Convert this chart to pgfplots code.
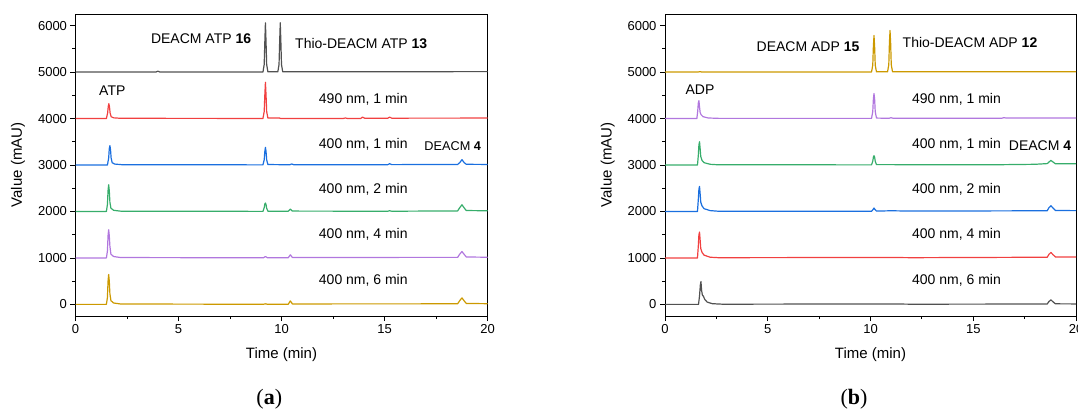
\documentclass[border=0pt]{standalone}
\usepackage{fontspec}
\setmainfont{Liberation Sans}
\newfontfamily\capfont{Liberation Serif}
\usepackage{pgfplots}
\pgfplotsset{compat=1.18}

\definecolor{cblack}{HTML}{515151}
\definecolor{cred}{HTML}{F14040}
\definecolor{cblue}{HTML}{1A6FDF}
\definecolor{cgreen}{HTML}{37AD6B}
\definecolor{cpurple}{HTML}{B177DE}
\definecolor{cyellow}{HTML}{CC9900}

\pgfplotsset{
  hplc/.style={
    scale only axis, width=412pt, height=302pt,
    xmin=0, xmax=20, ymin=-250, ymax=6250,
    xtick={0,5,10,15,20}, ytick={0,1000,2000,3000,4000,5000,6000},
    minor x tick num=1, minor y tick num=1,
    xtick pos=bottom, ytick pos=left, tick align=outside,
    major tick length=5pt, minor tick length=3pt,
    every tick/.style={black, line width=0.8pt},
    axis line style={line width=0.9pt},
    /pgf/number format/assume math mode=true,
    /pgf/number format/1000 sep={},
    tick label style={font=\fontsize{13}{15}\selectfont},
    label style={font=\fontsize{15}{17}\selectfont},
    xlabel={Time (min)}, ylabel={Value (mAU)},
    xlabel style={at={(axis description cs:0.5,-0.129)}, anchor=center},
    ylabel style={at={(axis description cs:-0.1396,0.5)}, anchor=center},
    every axis plot/.append style={line width=1.2pt, no marks, line join=round},
  }
}

\begin{document}
\begin{tikzpicture}[x=1pt,y=1pt]
\path[use as bounding box] (0pt,0pt) rectangle (1078pt,410pt);

% ---------- (a) ----------
\begin{axis}[hplc, at={(75.5pt,94pt)}, anchor=south west]
\addplot[cblack] coordinates {(0,5000) (3.9,5000) (4.0,5020) (4.1,5000) (9.10,5000) (9.16,5160) (9.19,5640) (9.22,6060) (9.25,5640) (9.28,5160) (9.34,5005) (9.82,5005) (9.88,5160) (9.91,5640) (9.94,6060) (9.97,5640) (10.00,5160) (10.06,5005) (20,5010)};
\addplot[cred] coordinates {(0,4000) (1.50,4000) (1.56,4120) (1.59,4260) (1.62,4320) (1.65,4250) (1.68,4120) (1.73,4040) (1.85,4015) (2.2,4005) (9.10,4002) (9.16,4150) (9.19,4500) (9.22,4780) (9.25,4500) (9.28,4150) (9.34,4010) (9.9,4012) (9.95,4002) (13.0,4002) (13.1,4012) (13.2,4002) (13.85,4002) (13.93,4030) (14.05,4005) (15.15,4005) (15.25,4030) (15.35,4008) (20,4010)};
\addplot[cblue] coordinates {(0,3000) (1.55,3000) (1.61,3150) (1.64,3350) (1.67,3416) (1.70,3330) (1.73,3150) (1.78,3050) (1.9,3020) (2.3,3005) (9.10,3003) (9.16,3110) (9.19,3290) (9.22,3380) (9.25,3290) (9.28,3110) (9.34,3010) (10.4,3005) (10.5,3022) (10.6,3005) (15.15,3005) (15.25,3028) (15.35,3008) (18.55,3012) (18.65,3050) (18.76,3114) (18.87,3050) (18.97,3015) (20,3012)};
\addplot[cgreen] coordinates {(0,2000) (1.50,2000) (1.55,2150) (1.58,2450) (1.61,2575) (1.64,2450) (1.67,2200) (1.72,2070) (1.85,2025) (2.2,2006) (9.10,2002) (9.16,2080) (9.19,2160) (9.22,2181) (9.25,2150) (9.28,2070) (9.34,2005) (10.33,2005) (10.43,2050) (10.53,2008) (15.15,2005) (15.25,2015) (15.35,2005) (18.55,2012) (18.65,2080) (18.76,2144) (18.87,2075) (18.97,2020) (20,2015)};
\addplot[cpurple] coordinates {(0,1000) (1.50,1000) (1.55,1150) (1.58,1480) (1.61,1606) (1.64,1480) (1.67,1250) (1.72,1080) (1.85,1030) (2.2,1008) (9.12,1003) (9.22,1030) (9.32,1003) (10.33,1005) (10.43,1067) (10.53,1010) (18.55,1012) (18.65,1080) (18.76,1138) (18.87,1075) (18.97,1020) (20,1015)};
\addplot[cyellow] coordinates {(0,0) (1.50,0) (1.55,150) (1.58,500) (1.61,643) (1.64,500) (1.67,230) (1.72,80) (1.85,30) (2.2,8) (9.12,3) (9.22,12) (9.32,3) (10.33,5) (10.43,75) (10.53,10) (18.55,12) (18.65,80) (18.76,140) (18.87,75) (18.97,20) (20,15)};
\end{axis}

% ---------- (b) ----------
\begin{axis}[hplc, width=411pt, at={(665pt,94pt)}, anchor=south west]
\addplot[cyellow] coordinates {(0,5000) (1.6,5000) (1.7,5010) (1.8,5000) (10.05,5002) (10.11,5150) (10.14,5550) (10.17,5786) (10.20,5550) (10.23,5150) (10.29,5005) (10.83,5005) (10.89,5160) (10.92,5620) (10.95,5894) (10.98,5620) (11.01,5160) (11.07,5008) (20,5005)};
\addplot[cpurple] coordinates {(0,4000) (1.55,4000) (1.59,4150) (1.62,4330) (1.65,4386) (1.68,4250) (1.71,4130) (1.76,4080) (1.85,4040) (2.1,4012) (2.6,4004) (10.05,4003) (10.11,4150) (10.14,4420) (10.17,4537) (10.20,4420) (10.23,4150) (10.29,4010) (10.9,4005) (11.0,4018) (11.1,4005) (16.4,4008) (16.5,4020) (16.6,4010) (20,4010)};
\addplot[cgreen] coordinates {(0,3000) (1.58,3000) (1.62,3200) (1.65,3430) (1.68,3502) (1.71,3350) (1.74,3180) (1.80,3100) (1.9,3050) (2.2,3015) (2.6,3004) (10.05,3003) (10.11,3080) (10.14,3170) (10.17,3200) (10.20,3170) (10.23,3080) (10.29,3008) (16,3005) (18.0,3015) (18.6,3030) (18.7,3070) (18.78,3099) (18.88,3065) (19.0,3025) (20,3025)};
\addplot[cblue] coordinates {(0,2000) (1.58,2000) (1.62,2250) (1.65,2480) (1.68,2540) (1.71,2380) (1.74,2200) (1.80,2120) (1.9,2060) (2.2,2018) (2.6,2005) (10.05,2003) (10.12,2040) (10.17,2073) (10.22,2040) (10.29,2008) (11.0,2015) (12,2008) (18.6,2015) (18.68,2080) (18.78,2123) (18.88,2075) (19.0,2020) (20,2018)};
\addplot[cred] coordinates {(0,1000) (1.58,1000) (1.62,1250) (1.65,1500) (1.68,1556) (1.71,1380) (1.74,1200) (1.80,1120) (1.9,1060) (2.2,1015) (2.6,1005) (11.0,1010) (12,1005) (18.6,1015) (18.68,1075) (18.78,1117) (18.88,1070) (19.0,1020) (20,1018)};
\addplot[cblack] coordinates {(0,0) (1.63,0) (1.68,180) (1.72,420) (1.75,491) (1.78,300) (1.82,200) (1.87,175) (1.93,110) (2.05,50) (2.3,15) (2.8,4) (11.0,10) (12,4) (18.6,8) (18.68,60) (18.78,97) (18.88,55) (19.0,12) (20,10)};
\end{axis}

% ---------- annotations ----------
\begin{scope}[every node/.style={font=\fontsize{14}{16}\selectfont, inner sep=0pt}]
\node at (201.1pt,371.7pt) {DEACM ATP \textbf{16}};
\node at (361.2pt,366.7pt) {Thio-DEACM ATP \textbf{13}};
\node at (112.3pt,319.3pt) {ATP};
\node at (363.3pt,311pt) {490 nm, 1 min};
\node at (363.3pt,265.7pt) {400 nm, 1 min};
\node[font=\fontsize{12.7}{15}\selectfont] at (452.7pt,264pt) {DEACM \textbf{4}};
\node at (363.3pt,220.7pt) {400 nm, 2 min};
\node at (363.3pt,175.7pt) {400 nm, 4 min};
\node at (363.3pt,130pt) {400 nm, 6 min};

\node at (700pt,320.7pt) {ADP};
\node at (808pt,363.3pt) {DEACM ADP \textbf{15}};
\node at (970pt,367.3pt) {Thio-DEACM ADP \textbf{12}};
\node at (956.5pt,310.7pt) {490 nm, 1 min};
\node at (956.5pt,265.7pt) {400 nm, 1 min};
\node at (1040pt,264.7pt) {DEACM \textbf{4}};
\node at (956.5pt,220.7pt) {400 nm, 2 min};
\node at (956.5pt,175.7pt) {400 nm, 4 min};
\node at (956.5pt,130pt) {400 nm, 6 min};

\node[font=\capfont\fontsize{22}{24}\selectfont] at (269.3pt,11pt) {(\textbf{a})};
\node[font=\capfont\fontsize{22}{24}\selectfont] at (854pt,11pt) {(\textbf{b})};
\end{scope}
\end{tikzpicture}
\end{document}
